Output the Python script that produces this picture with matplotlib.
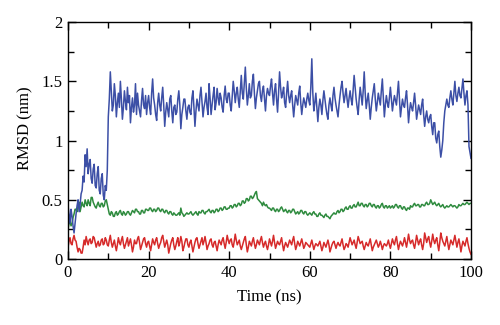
import numpy as np
import matplotlib
matplotlib.use("Agg")
import matplotlib.pyplot as plt
from matplotlib.ticker import MultipleLocator

plt.rcParams['font.family'] = ['Liberation Serif', 'DejaVu Serif']

# RMSD series (nm), sampled every 0.25 ns from 0 to 100 ns
blue_rmsd = [
    0.45,0.38,0.30,0.42,0.36,0.28,0.22,0.30,0.38,0.45,0.50,0.40,0.46,0.55,0.58,0.70,0.65,0.88,0.78,0.93,
    0.72,0.80,0.84,0.68,0.64,0.76,0.80,0.62,0.60,0.72,0.78,0.58,0.55,0.68,0.72,0.54,0.50,0.62,0.58,0.75,
    1.20,1.35,1.58,1.42,1.25,1.30,1.48,1.38,1.20,1.32,1.40,1.28,1.50,1.35,1.18,1.28,1.42,1.33,1.26,1.45,
    1.32,1.38,1.15,1.28,1.36,1.24,1.30,1.48,1.22,1.40,1.30,1.25,1.20,1.34,1.44,1.30,1.27,1.38,1.22,1.32,
    1.38,1.28,1.22,1.40,1.52,1.36,1.30,1.22,1.17,1.32,1.40,1.30,1.25,1.36,1.45,1.30,1.12,1.24,1.32,1.26,
    1.20,1.35,1.38,1.25,1.15,1.28,1.30,1.22,1.24,1.35,1.42,1.30,1.10,1.22,1.28,1.35,1.35,1.25,1.18,1.28,
    1.30,1.24,1.22,1.36,1.42,1.28,1.12,1.25,1.35,1.30,1.25,1.38,1.45,1.32,1.20,1.28,1.33,1.40,1.28,1.22,
    1.48,1.36,1.22,1.30,1.38,1.45,1.26,1.32,1.44,1.36,1.30,1.40,1.36,1.28,1.24,1.38,1.46,1.35,1.32,1.40,
    1.40,1.30,1.25,1.38,1.50,1.42,1.32,1.40,1.45,1.35,1.28,1.42,1.55,1.40,1.35,1.48,1.62,1.44,1.30,1.38,
    1.48,1.36,1.38,1.50,1.56,1.40,1.27,1.36,1.42,1.48,1.50,1.38,1.33,1.42,1.46,1.35,1.25,1.38,1.44,1.40,
    1.38,1.46,1.52,1.40,1.30,1.42,1.48,1.35,1.24,1.40,1.58,1.45,1.36,1.40,1.45,1.32,1.28,1.40,1.50,1.38,
    1.32,1.38,1.42,1.30,1.20,1.30,1.38,1.34,1.30,1.40,1.46,1.32,1.22,1.30,1.36,1.32,1.28,1.35,1.40,1.34,
    1.30,1.45,1.69,1.40,1.25,1.32,1.40,1.28,1.16,1.28,1.35,1.30,1.22,1.34,1.42,1.35,1.28,1.22,1.18,1.30,
    1.36,1.30,1.25,1.38,1.45,1.36,1.30,1.25,1.20,1.30,1.38,1.45,1.50,1.40,1.32,1.38,1.44,1.35,1.28,1.36,
    1.42,1.35,1.30,1.42,1.55,1.45,1.35,1.28,1.22,1.35,1.45,1.38,1.30,1.42,1.58,1.40,1.27,1.34,1.40,1.30,
    1.18,1.28,1.36,1.42,1.48,1.35,1.25,1.32,1.40,1.35,1.30,1.42,1.52,1.36,1.20,1.30,1.38,1.32,1.28,1.36,
    1.45,1.35,1.25,1.32,1.38,1.34,1.30,1.40,1.50,1.35,1.20,1.28,1.35,1.30,1.28,1.36,1.42,1.30,1.15,1.25,
    1.32,1.28,1.25,1.32,1.40,1.30,1.18,1.24,1.30,1.26,1.22,1.30,1.35,1.22,1.12,1.20,1.25,1.18,1.15,1.20,
    1.22,1.12,1.05,1.15,1.15,1.02,0.98,1.05,1.08,0.95,0.86,0.92,1.00,1.15,1.25,1.30,1.35,1.30,1.28,1.36,
    1.42,1.35,1.30,1.40,1.50,1.38,1.33,1.40,1.45,1.38,1.36,1.44,1.52,1.40,1.30,1.38,1.42,1.30,0.95,0.90,0.85,
]

green_rmsd = [
    0.25,0.30,0.32,0.28,0.30,0.35,0.38,0.42,0.42,0.40,0.45,0.48,0.40,0.44,0.48,0.45,0.44,0.50,0.47,0.45,
    0.50,0.47,0.45,0.52,0.52,0.48,0.46,0.44,0.43,0.46,0.48,0.45,0.44,0.47,0.47,0.44,0.45,0.49,0.50,0.46,
    0.42,0.38,0.37,0.40,0.39,0.36,0.36,0.39,0.40,0.37,0.38,0.40,0.41,0.38,0.37,0.40,0.39,0.37,0.38,0.40,
    0.40,0.38,0.37,0.39,0.41,0.40,0.39,0.42,0.42,0.40,0.40,0.38,0.38,0.41,0.41,0.39,0.39,0.42,0.42,0.41,
    0.41,0.43,0.43,0.41,0.40,0.42,0.42,0.40,0.41,0.43,0.43,0.41,0.40,0.42,0.42,0.40,0.39,0.41,0.41,0.39,
    0.38,0.40,0.40,0.38,0.37,0.39,0.38,0.37,0.37,0.38,0.39,0.37,0.43,0.39,0.38,0.36,0.37,0.38,0.39,0.38,
    0.38,0.39,0.40,0.38,0.37,0.38,0.39,0.40,0.38,0.37,0.40,0.39,0.39,0.41,0.41,0.39,0.38,0.40,0.40,0.41,
    0.42,0.40,0.39,0.41,0.41,0.39,0.40,0.42,0.42,0.40,0.41,0.43,0.43,0.41,0.42,0.44,0.44,0.42,0.42,0.43,
    0.43,0.45,0.45,0.43,0.44,0.46,0.46,0.44,0.45,0.47,0.47,0.45,0.46,0.49,0.49,0.47,0.48,0.51,0.51,0.49,
    0.50,0.53,0.53,0.51,0.52,0.54,0.56,0.57,0.51,0.50,0.49,0.48,0.47,0.45,0.48,0.46,0.45,0.46,0.44,0.43,
    0.43,0.42,0.41,0.43,0.43,0.41,0.40,0.42,0.42,0.40,0.41,0.43,0.44,0.42,0.40,0.41,0.42,0.40,0.39,0.41,
    0.41,0.39,0.40,0.42,0.42,0.40,0.38,0.39,0.40,0.38,0.39,0.41,0.41,0.39,0.38,0.40,0.40,0.38,0.37,0.38,
    0.39,0.38,0.37,0.39,0.40,0.38,0.38,0.36,0.36,0.38,0.39,0.37,0.37,0.36,0.35,0.37,0.38,0.36,0.36,0.35,
    0.34,0.36,0.37,0.38,0.39,0.38,0.38,0.40,0.41,0.39,0.40,0.42,0.42,0.40,0.41,0.43,0.44,0.42,0.42,0.44,
    0.45,0.43,0.43,0.45,0.46,0.44,0.44,0.46,0.48,0.45,0.45,0.47,0.47,0.45,0.44,0.46,0.46,0.44,0.45,0.47,
    0.47,0.45,0.44,0.46,0.46,0.44,0.43,0.45,0.45,0.43,0.44,0.46,0.47,0.44,0.43,0.45,0.45,0.43,0.44,0.45,
    0.43,0.44,0.45,0.43,0.44,0.46,0.46,0.44,0.43,0.45,0.45,0.43,0.42,0.44,0.44,0.42,0.41,0.43,0.43,0.42,
    0.45,0.44,0.44,0.46,0.47,0.45,0.45,0.46,0.46,0.44,0.44,0.46,0.46,0.45,0.45,0.47,0.48,0.46,0.46,0.47,
    0.50,0.48,0.46,0.47,0.48,0.46,0.45,0.46,0.47,0.45,0.44,0.45,0.46,0.44,0.43,0.44,0.45,0.44,0.44,0.45,
    0.46,0.45,0.44,0.45,0.45,0.44,0.43,0.44,0.46,0.45,0.45,0.46,0.47,0.46,0.46,0.47,0.48,0.47,0.46,0.47,0.47,
]

red_rmsd = [
    0.10,0.15,0.18,0.13,0.12,0.17,0.20,0.16,0.15,0.10,0.06,0.09,0.08,0.05,0.05,0.10,0.16,0.12,0.19,0.15,
    0.12,0.16,0.17,0.13,0.14,0.19,0.18,0.14,0.10,0.13,0.15,0.11,0.12,0.16,0.17,0.12,0.13,0.18,0.16,0.12,
    0.11,0.16,0.20,0.14,0.10,0.13,0.16,0.11,0.07,0.12,0.18,0.14,0.12,0.16,0.19,0.13,0.09,0.12,0.15,0.18,
    0.11,0.14,0.17,0.12,0.06,0.10,0.16,0.13,0.13,0.17,0.19,0.14,0.08,0.11,0.14,0.17,0.18,0.13,0.10,0.14,
    0.15,0.11,0.07,0.12,0.17,0.14,0.12,0.16,0.18,0.13,0.09,0.12,0.14,0.18,0.20,0.15,0.10,0.13,0.16,0.12,
    0.05,0.09,0.13,0.16,0.18,0.12,0.08,0.11,0.15,0.18,0.11,0.14,0.19,0.15,0.07,0.10,0.14,0.17,0.17,0.12,
    0.10,0.14,0.16,0.11,0.06,0.10,0.14,0.17,0.18,0.13,0.09,0.12,0.15,0.18,0.12,0.15,0.19,0.14,0.08,0.11,
    0.13,0.16,0.17,0.12,0.10,0.14,0.15,0.11,0.07,0.12,0.16,0.14,0.12,0.16,0.18,0.13,0.09,0.14,0.20,0.16,
    0.13,0.16,0.17,0.12,0.10,0.15,0.21,0.16,0.12,0.14,0.16,0.11,0.08,0.11,0.14,0.17,0.19,0.12,0.06,0.10,
    0.15,0.13,0.11,0.15,0.18,0.13,0.09,0.12,0.16,0.14,0.12,0.16,0.19,0.14,0.10,0.13,0.15,0.11,0.08,0.12,
    0.17,0.14,0.11,0.15,0.20,0.14,0.09,0.12,0.15,0.13,0.12,0.15,0.18,0.12,0.07,0.11,0.14,0.12,0.10,0.13,
    0.16,0.14,0.12,0.16,0.19,0.13,0.08,0.11,0.15,0.13,0.11,0.14,0.17,0.13,0.09,0.11,0.14,0.13,0.12,0.11,
    0.10,0.13,0.16,0.12,0.08,0.11,0.13,0.12,0.11,0.13,0.15,0.11,0.07,0.10,0.14,0.12,0.10,0.13,0.16,0.12,
    0.06,0.09,0.12,0.14,0.15,0.12,0.09,0.12,0.14,0.12,0.11,0.14,0.17,0.12,0.08,0.10,0.13,0.12,0.10,0.14,
    0.18,0.15,0.12,0.14,0.16,0.12,0.09,0.14,0.19,0.16,0.13,0.14,0.15,0.11,0.08,0.11,0.14,0.12,0.11,0.14,
    0.17,0.12,0.07,0.10,0.12,0.14,0.16,0.13,0.10,0.12,0.15,0.12,0.08,0.11,0.13,0.12,0.11,0.13,0.16,0.12,
    0.09,0.13,0.17,0.14,0.12,0.16,0.19,0.13,0.08,0.12,0.15,0.13,0.11,0.14,0.18,0.14,0.10,0.15,0.21,0.16,
    0.13,0.15,0.16,0.12,0.09,0.14,0.20,0.16,0.12,0.15,0.17,0.12,0.08,0.13,0.22,0.18,0.14,0.17,0.19,0.14,
    0.10,0.15,0.21,0.16,0.13,0.16,0.18,0.12,0.07,0.14,0.22,0.18,0.15,0.13,0.11,0.15,0.19,0.13,0.08,0.12,
    0.16,0.14,0.12,0.16,0.20,0.15,0.10,0.14,0.17,0.12,0.06,0.11,0.15,0.13,0.11,0.15,0.18,0.13,0.09,0.06,0.04,
]

x_ticks = [0, 20, 40, 60, 80, 100]
y_ticks = [0, 0.5, 1, 1.5, 2]
y_tick_labels = ["0", "0.5", "1", "1.5", "2"]

fig = plt.figure(figsize=(5, 3.25), dpi=100)
ax = fig.add_axes([0.136, 0.203, 0.806, 0.729])

for series, color in [(green_rmsd, "#2e8b3e"), (blue_rmsd, "#3c4fa6"), (red_rmsd, "#d62a2a")]:
    t = np.linspace(0, 100, len(series))
    ax.plot(t, series, color=color, lw=1.1)

ax.set_xlim(0, 100)
ax.set_ylim(0, 2)
ax.set_xticks(x_ticks)
ax.set_yticks(y_ticks)
ax.set_yticklabels(y_tick_labels)
ax.xaxis.set_minor_locator(MultipleLocator(10))
ax.yaxis.set_minor_locator(MultipleLocator(0.25))
ax.tick_params(which="both", direction="in", top=True, right=True, labelsize=12, width=1.0)
ax.tick_params(which="major", length=6, pad=4)
ax.tick_params(which="minor", length=4)
for s in ax.spines.values():
    s.set_linewidth(1.0)

ax.set_xlabel("Time (ns)", fontsize=12, labelpad=6)
ax.set_ylabel("RMSD (nm)", fontsize=12)
ax.yaxis.set_label_coords(-0.085, 0.553)

fig.savefig("out.png", dpi=100)
